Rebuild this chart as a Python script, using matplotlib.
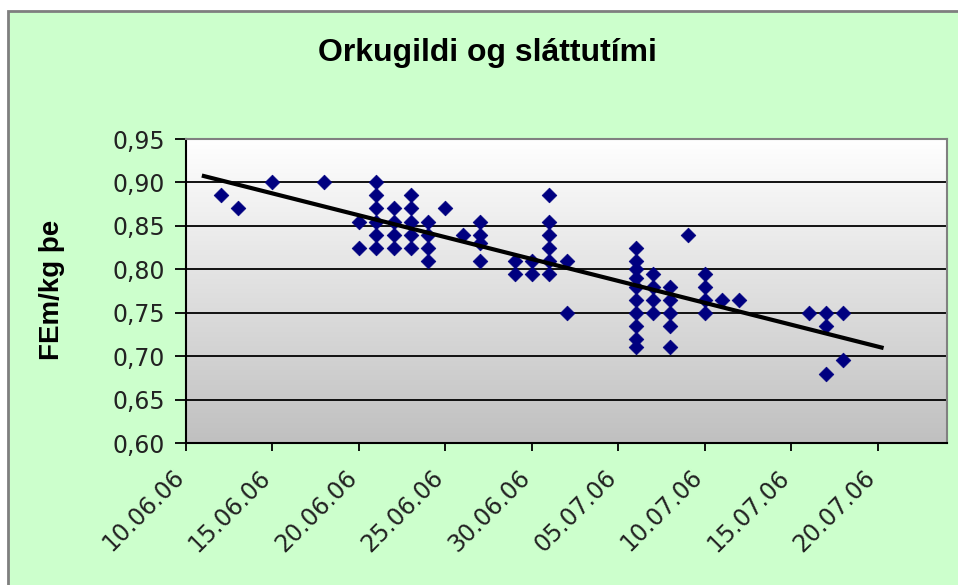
import numpy as np
import matplotlib
matplotlib.use("Agg")
import matplotlib.pyplot as plt
import matplotlib.dates as mdates
import matplotlib.transforms as mtransforms
from matplotlib.patches import Rectangle
from matplotlib.ticker import FixedLocator, FuncFormatter
from matplotlib.colors import LinearSegmentedColormap
import datetime as dt

# ---- data ----
dates = (["2006-06-12"] + ["2006-06-13"] + ["2006-06-15"] + ["2006-06-18"]
         + ["2006-06-20"] * 2 + ["2006-06-21"] * 6 + ["2006-06-22"] * 4
         + ["2006-06-23"] * 5 + ["2006-06-24"] * 4 + ["2006-06-25"] + ["2006-06-26"]
         + ["2006-06-27"] * 4 + ["2006-06-29"] * 2 + ["2006-06-30"] * 2
         + ["2006-07-01"] * 6 + ["2006-07-02"] * 2 + ["2006-07-06"] * 10
         + ["2006-07-07"] * 4 + ["2006-07-08"] * 5 + ["2006-07-09"]
         + ["2006-07-10"] * 4 + ["2006-07-11"] + ["2006-07-12"] + ["2006-07-16"]
         + ["2006-07-17"] * 3 + ["2006-07-18"] * 2)
values = ([0.885] + [0.87] + [0.90] + [0.90]
          + [0.855, 0.825]
          + [0.90, 0.885, 0.87, 0.855, 0.84, 0.825]
          + [0.87, 0.855, 0.84, 0.825]
          + [0.885, 0.87, 0.855, 0.84, 0.825]
          + [0.855, 0.84, 0.825, 0.81]
          + [0.87] + [0.84]
          + [0.855, 0.84, 0.83, 0.81]
          + [0.81, 0.795] + [0.81, 0.795]
          + [0.885, 0.855, 0.84, 0.825, 0.81, 0.795]
          + [0.81, 0.75]
          + [0.825, 0.81, 0.80, 0.79, 0.78, 0.765, 0.75, 0.735, 0.72, 0.71]
          + [0.795, 0.78, 0.765, 0.75]
          + [0.78, 0.765, 0.75, 0.735, 0.71]
          + [0.84]
          + [0.795, 0.78, 0.765, 0.75]
          + [0.765] + [0.765] + [0.75]
          + [0.75, 0.735, 0.68]
          + [0.75, 0.695])
trend_start = "2006-06-10 22:00"
trend_end = "2006-07-20 08:00"
x_ticks = ["2006-06-10", "2006-06-15", "2006-06-20", "2006-06-25", "2006-06-30",
           "2006-07-05", "2006-07-10", "2006-07-15", "2006-07-20"]
x_min, x_max = "2006-06-10", "2006-07-24"
y_ticks = [0.60, 0.65, 0.70, 0.75, 0.80, 0.85, 0.90, 0.95]
title = "Orkugildi og sláttutími"
ylabel = "FEm/kg þe"

# ---- figure ----
W, H = 958, 585
fig = plt.figure(figsize=(W / 100, H / 100), dpi=100)
fig.patch.set_facecolor("white")
bg = Rectangle((8 / W, -0.05), 1.2, (H - 11) / H + 0.05, transform=fig.transFigure,
               facecolor="#CCFFCC", edgecolor="#7F7F7F", linewidth=2, zorder=-10)
fig.patches.append(bg)

ax = fig.add_axes([186 / W, 1 - 443 / H, (947 - 186) / W, (443 - 139) / H])
ax.set_facecolor("none")

xd = mdates.date2num([dt.datetime.fromisoformat(d) for d in dates])
yv = np.array(values)

ax.set_xlim(mdates.date2num(dt.datetime.fromisoformat(x_min)),
            mdates.date2num(dt.datetime.fromisoformat(x_max)))
ax.set_ylim(y_ticks[0], y_ticks[-1])

# gradient plot area (white at top, grey at bottom)
grad = np.linspace(0, 1, 256).reshape(-1, 1)
cmap = LinearSegmentedColormap.from_list("g", ["#FFFFFF", "#C0C0C0"])
ax.imshow(grad, aspect="auto", cmap=cmap, origin="upper", extent=[0, 1, 0, 1],
          transform=ax.transAxes, zorder=0)

# gridlines
for yt in y_ticks[1:-1]:
    ax.axhline(yt, color="black", linewidth=1.3, zorder=1)

ax.scatter(xd, yv, marker="D", s=56, color="#000080", edgecolors="#000080",
           linewidths=0.5, zorder=3)

# linear trendline
k, b = np.polyfit(xd, yv, 1)
tx = mdates.date2num([dt.datetime.fromisoformat(trend_start),
                      dt.datetime.fromisoformat(trend_end)])
ax.plot(tx, k * tx + b, color="black", linewidth=3, zorder=4, solid_capstyle="butt")

# axes styling
for s in ["top", "right"]:
    ax.spines[s].set_color("#808080")
    ax.spines[s].set_linewidth(1.5)
for s in ["left", "bottom"]:
    ax.spines[s].set_color("black")
    ax.spines[s].set_linewidth(1.5)

ax.xaxis.set_major_locator(FixedLocator(mdates.date2num(
    [dt.datetime.fromisoformat(d) for d in x_ticks])))
ax.xaxis.set_major_formatter(mdates.DateFormatter("%d.%m.%y"))
ax.yaxis.set_major_locator(FixedLocator(y_ticks))
ax.yaxis.set_major_formatter(FuncFormatter(lambda v, p: f"{v:.2f}".replace(".", ",")))

ax.tick_params(axis="y", direction="out", length=8, width=1.3, labelsize=17,
               pad=7, colors="black", labelcolor="#222222")
ax.tick_params(axis="x", direction="out", length=6, width=1.3, labelsize=17,
               pad=16, colors="black", labelcolor="#222222")
offset = mtransforms.ScaledTranslation(-6 / 100, 0, fig.dpi_scale_trans)
for lab in ax.get_yticklabels():
    lab.set_fontfamily("DejaVu Sans")
for lab in ax.get_xticklabels():
    lab.set_rotation(45)
    lab.set_ha("right")
    lab.set_va("center")
    lab.set_rotation_mode("anchor")
    lab.set_fontfamily("DejaVu Sans")
    lab.set_transform(lab.get_transform() + offset)

fig.text(487 / W, 1 - 53 / H, title, ha="center", va="center",
         fontsize=23, fontweight="bold", family="Liberation Sans")
fig.text(52 / W, 1 - 290 / H, ylabel, ha="center", va="center", rotation=90,
         fontsize=20, fontweight="bold", family="Liberation Sans")

fig.savefig("out.png", dpi=100)
